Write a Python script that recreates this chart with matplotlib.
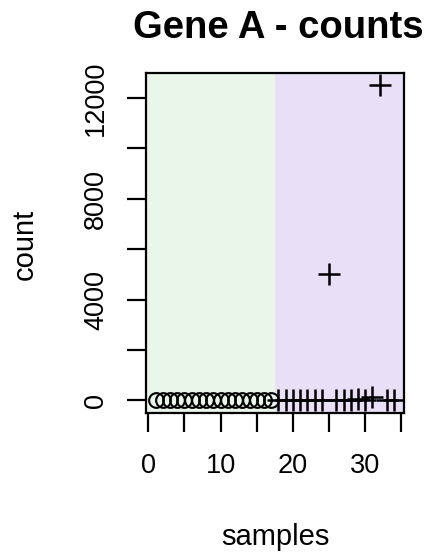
import matplotlib
matplotlib.use("Agg")
import matplotlib.pyplot as plt

# ---- data ----
samples_a = list(range(1, 18))           # group 1 (circles)
counts_a = [15, 20, 10, 25, 18, 12, 22, 30, 14, 16, 20, 11, 19, 24, 13, 17, 21]
samples_b = list(range(18, 35))          # group 2 (plus)
counts_b = [20, 15, 25, 30, 18, 22, 12, 5000, 28, 16, 20, 35, 24, 150, 12500, 19, 26]
xticks = [0, 5, 10, 15, 20, 25, 30, 35]
xticklabels = ["0", "", "10", "", "20", "", "30", ""]
yticks = [0, 2000, 4000, 6000, 8000, 10000, 12000]
yticklabels = ["0", "", "4000", "", "8000", "", "12000"]
title = "Gene A - counts"
xlabel = "samples"
ylabel = "count"
split = 17.5

plt.rcParams['font.family'] = ['Liberation Sans', 'DejaVu Sans']

W, H = 432, 554
fig = plt.figure(figsize=(W / 100, H / 100), dpi=100)
left, right, top, bottom = 146, 403.7, 72.7, 412.7
ax = fig.add_axes([left / W, 1 - bottom / H, (right - left) / W, (bottom - top) / H])

all_x = samples_a + samples_b
all_y = counts_a + counts_b
xr = max(all_x) - min(all_x)
yr = max(all_y) - min(all_y)
xlim = (min(all_x) - 0.04 * xr, max(all_x) + 0.04 * xr)
ylim = (min(all_y) - 0.04 * yr, max(all_y) + 0.04 * yr)

ax.axvspan(xlim[0], split, color='#E9F6E9', lw=0, zorder=0)
ax.axvspan(split, xlim[1], color='#E8E0F6', lw=0, zorder=0)

ax.plot(samples_a, counts_a, linestyle='none', marker='o', markersize=10.6,
        markerfacecolor='none', markeredgecolor='black', markeredgewidth=1.5, zorder=3)
ax.plot(samples_b, counts_b, linestyle='none', marker='+', markersize=15.8,
        markeredgecolor='black', markeredgewidth=1.8, zorder=3)

ax.set_xlim(xlim)
ax.set_ylim(ylim)
ax.set_xticks(xticks)
ax.set_xticklabels(xticklabels)
ax.set_yticks(yticks)
ax.set_yticklabels(yticklabels)
for lab in ax.get_yticklabels():
    lab.set_rotation(90)
    lab.set_va('center')

ax.tick_params(direction='out', length=13.7, width=1.6, labelsize=19.5, pad=13)
ax.tick_params(axis='x', pad=15)
for s in ax.spines.values():
    s.set_linewidth(1.6)

fig.text(278 / W, 1 - 28 / H, title, fontsize=27.5, fontweight='bold', ha='center', va='center')
fig.text(275 / W, 1 - 537 / H, xlabel, fontsize=21, ha='center', va='center')
fig.text(25 / W, 1 - 244 / H, ylabel, fontsize=21, ha='center', va='center', rotation=90)

fig.savefig('out.png', dpi=100)
